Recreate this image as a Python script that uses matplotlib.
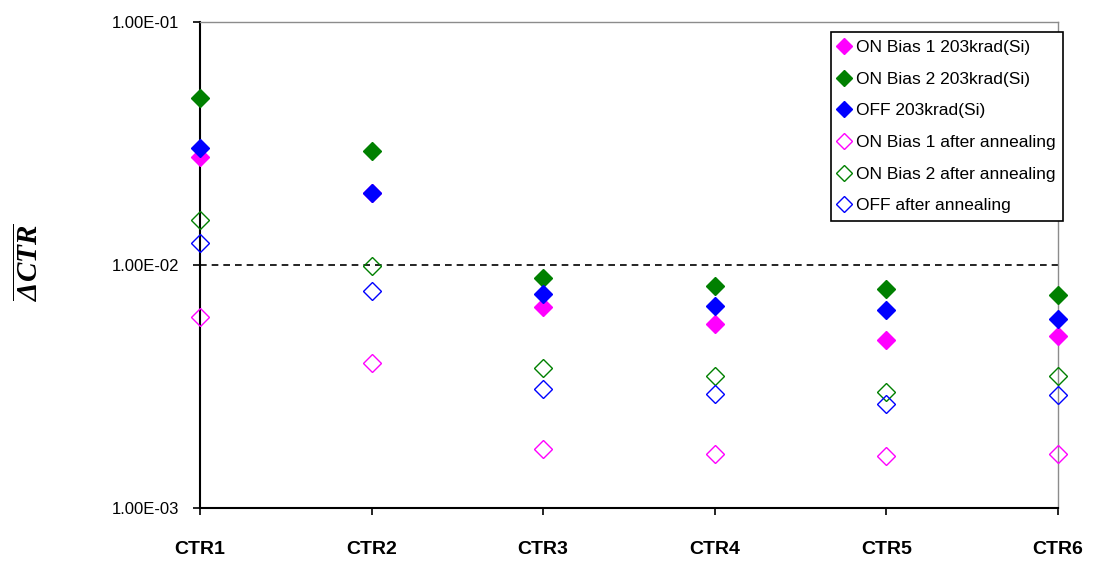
import numpy as np
import matplotlib.pyplot as plt
from matplotlib.ticker import FixedLocator, FixedFormatter, NullLocator

plt.rcParams['font.family'] = ['Liberation Sans', 'DejaVu Sans']
plt.rcParams['mathtext.fontset'] = 'custom'
plt.rcParams['mathtext.bf'] = 'Liberation Serif:bold:italic'
plt.rcParams['mathtext.rm'] = 'Liberation Serif:bold:italic'

categories = ['CTR1', 'CTR2', 'CTR3', 'CTR4', 'CTR5', 'CTR6']

on_bias1_irr = [0.0278, 0.0197, 0.00673, 0.0057, 0.00491, 0.0051]
on_bias2_irr = [0.0488, 0.0295, 0.00886, 0.00818, 0.00798, 0.00752]
off_irr = [0.0304, 0.0197, 0.00757, 0.00678, 0.0065, 0.00597]
on_bias1_ann = [0.0061, 0.00396, 0.00175, 0.00167, 0.00163, 0.00167]
on_bias2_ann = [0.0153, 0.0099, 0.00376, 0.00349, 0.00301, 0.00349]
off_ann = [0.0123, 0.0078, 0.00308, 0.00294, 0.00269, 0.00292]

threshold = 0.01

fig = plt.figure(figsize=(11, 5.76), dpi=100)
ax = fig.add_axes([0.1818, 0.118, 0.78, 0.844])

x = np.arange(len(categories))
ms = 9

# open markers first, filled ones on top
ax.plot(x, on_bias2_ann, 'D', ms=ms, mfc='none', mec='#008000', mew=1,
        label='ON Bias 2 after annealing', clip_on=False, zorder=3)
ax.plot(x, off_ann, 'D', ms=ms, mfc='none', mec='#0000ff', mew=1,
        label='OFF after annealing', clip_on=False, zorder=3)
ax.plot(x, on_bias1_ann, 'D', ms=ms, mfc='none', mec='#ff00ff', mew=1,
        label='ON Bias 1 after annealing', clip_on=False, zorder=3)
ax.plot(x, on_bias1_irr, 'D', ms=ms, color='#ff00ff',
        label='ON Bias 1 203krad(Si)', clip_on=False, zorder=4)
ax.plot(x, on_bias2_irr, 'D', ms=ms, color='#008000',
        label='ON Bias 2 203krad(Si)', clip_on=False, zorder=4)
ax.plot(x, off_irr, 'D', ms=ms, color='#0000ff',
        label='OFF 203krad(Si)', clip_on=False, zorder=5)

ax.axhline(threshold, color='black', ls=(0, (4, 3)), lw=1.2, zorder=2)

ax.set_yscale('log')
ax.set_ylim(1e-3, 1e-1)
ax.set_xlim(0, len(categories) - 1)
ax.yaxis.set_major_locator(FixedLocator([1e-3, 1e-2, 1e-1]))
ax.yaxis.set_major_formatter(FixedFormatter(['1.00E-03', '1.00E-02', '1.00E-01']))
ax.yaxis.set_minor_locator(NullLocator())
ax.set_xticks(x)
ax.set_xticklabels(categories, fontsize=14, fontweight='bold')
ax.tick_params(axis='x', direction='out', length=5, width=1.2, pad=19)
ax.tick_params(axis='y', direction='out', length=5, width=1.2, labelsize=12, pad=10)

for side in ['left', 'bottom']:
    ax.spines[side].set_linewidth(1.5)
    ax.spines[side].set_color('black')
for side in ['top', 'right']:
    ax.spines[side].set_linewidth(1.0)
    ax.spines[side].set_color('#8c8c8c')

fig.text(0.027, 0.545, r'$\overline{\mathbf{\Delta CTR}}$', rotation=90,
         fontsize=21, ha='center', va='center')

handles, labels = ax.get_legend_handles_labels()
order = ['ON Bias 1 203krad(Si)', 'ON Bias 2 203krad(Si)', 'OFF 203krad(Si)',
         'ON Bias 1 after annealing', 'ON Bias 2 after annealing', 'OFF after annealing']
hl = dict(zip(labels, handles))
leg = ax.legend([hl[k] for k in order], order, loc='upper right',
                bbox_to_anchor=(1.006, 0.979), fontsize=12.5, frameon=True,
                fancybox=False, edgecolor='black', framealpha=1,
                handlelength=0.6, handletextpad=0.4, labelspacing=0.95,
                borderpad=0.45, borderaxespad=0, markerscale=0.85)
leg.get_frame().set_linewidth(1.2)

fig.savefig('out.png', dpi=100)
